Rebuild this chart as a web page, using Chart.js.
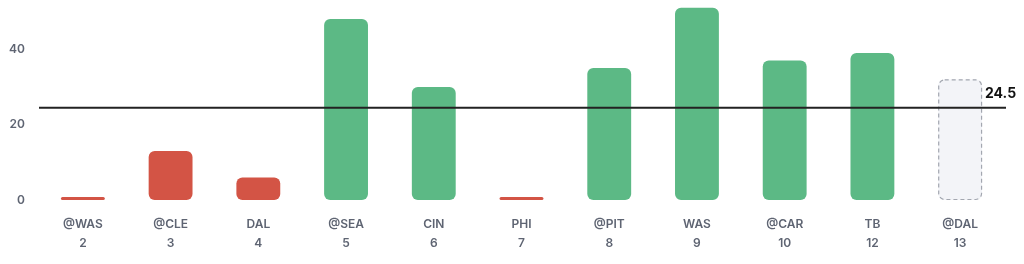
<!DOCTYPE html>
<html>
<head>
<meta charset="utf-8">
<script src="https://cdn.jsdelivr.net/npm/chart.js@4"></script>
<style>
    html, body { margin: 0; padding: 0; background: #ffffff; }
    #wrap { width: 1024px; height: 264px; }
</style>
</head>
<body>
<div id="wrap"><canvas id="gameChart"></canvas></div>
<script>
const opponents = ['@WAS', '@CLE', 'DAL', '@SEA', 'CIN', 'PHI', '@PIT', 'WAS', '@CAR', 'TB', '@DAL'];
const weeks = ['2', '3', '4', '5', '6', '7', '8', '9', '10', '12', '13'];
const points = [0, 13, 6, 48, 30, 0, 35, 51, 37, 39, 32];
const projected = [false, false, false, false, false, false, false, false, false, false, true];
const lineValue = 24.5;
const yTicks = [0, 20, 40];

const theme = {
    over: '#5cb985',
    under: '#d35445',
    projFill: '#f3f4f8',
    projBorder: '#a3a7b0',
    text: '#5e6472',
    line: '#222222'
};

const barColors = points.map((v, i) => projected[i] ? theme.projFill : (v > lineValue ? theme.over : theme.under));

const lineAndDashPlugin = {
    id: 'lineAndDash',
    afterDatasetsDraw(chart) {
        const { ctx, chartArea, scales } = chart;
        const meta = chart.getDatasetMeta(0);

        // dashed outline for projected game
        meta.data.forEach((bar, i) => {
            if (!projected[i]) return;
            const { x, y, base, width } = bar.getProps(['x', 'y', 'base', 'width'], true);
            ctx.save();
            ctx.setLineDash([4, 3]);
            ctx.strokeStyle = theme.projBorder;
            ctx.lineWidth = 1.2;
            ctx.beginPath();
            ctx.roundRect(x - width / 2 + 0.5, y + 0.5, width - 1, base - y - 1, 6);
            ctx.stroke();
            ctx.restore();
        });

        const yPx = scales.y.getPixelForValue(lineValue);
        ctx.save();
        ctx.strokeStyle = theme.line;
        ctx.lineWidth = 2;
        ctx.beginPath();
        ctx.moveTo(chartArea.left, yPx);
        ctx.lineTo(chartArea.right + 2, yPx);
        ctx.stroke();

        ctx.fillStyle = '#111111';
        ctx.font = "bold 14px 'Inter', sans-serif";
        ctx.textAlign = 'left';
        ctx.textBaseline = 'bottom';
        ctx.fillText(String(lineValue), chartArea.right - 19, yPx - 7);
        ctx.restore();
    }
};

new Chart(document.getElementById('gameChart'), {
    type: 'bar',
    data: {
        labels: opponents.map((o, i) => [o, weeks[i]]),
        datasets: [{
            data: points,
            backgroundColor: barColors,
            borderRadius: 6,
            borderSkipped: false,
            categoryPercentage: 1,
            barPercentage: 0.5,
            minBarLength: 3
        }]
    },
    options: {
        responsive: true,
        maintainAspectRatio: false,
        animation: false,
        layout: { padding: { top: 4, right: 20, left: 0, bottom: 0 } },
        plugins: {
            legend: { display: false },
            tooltip: { enabled: false }
        },
        scales: {
            x: {
                grid: { display: false, drawTicks: false },
                border: { display: false },
                ticks: {
                    color: theme.text,
                    padding: 15,
                    font: { family: "'Inter', sans-serif", size: 12, weight: '600', lineHeight: 1.6 }
                },
                afterFit(scale) { scale.height = 64; }
            },
            y: {
                min: 0,
                max: 52,
                grid: { display: false, drawTicks: false },
                border: { display: false },
                afterBuildTicks(scale) { scale.ticks = yTicks.map(v => ({ value: v })); },
                ticks: {
                    color: theme.text,
                    padding: 14,
                    font: { family: "'Inter', sans-serif", size: 12, weight: '600' }
                },
                afterFit(scale) {
                    scale.width = 39;
                    scale.paddingTop = 0;
                    scale.paddingBottom = 0;
                }
            }
        }
    },
    plugins: [lineAndDashPlugin]
});
</script>
</body>
</html>
